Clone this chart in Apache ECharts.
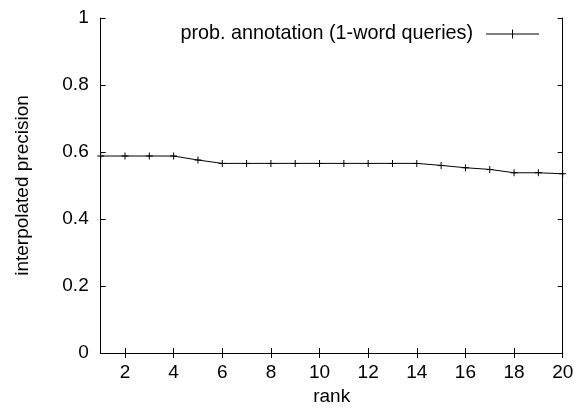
<!DOCTYPE html>
<html>
<head>
<meta charset="utf-8">
<script src="https://cdn.jsdelivr.net/npm/echarts@6/dist/echarts.min.js"></script>
<style>
html,body{margin:0;padding:0;background:#fff;}
#chart{width:577px;height:411px;}
</style>
</head>
<body>
<div id="chart"></div>
<script>
var ranks = [1,2,3,4,5,6,7,8,9,10,11,12,13,14,15,16,17,18,19,20];
var precision = [0.588,0.588,0.588,0.588,0.576,0.566,0.566,0.566,0.566,0.566,0.566,0.566,0.566,0.566,0.560,0.553,0.548,0.538,0.538,0.535];
var xTicks = [2,4,6,8,10,12,14,16,18,20];
var seriesName = 'prob. annotation (1-word queries)';
var xName = 'rank';
var yName = 'interpolated precision';

var FONT = "'Liberation Sans', Arial, Helvetica, sans-serif";
var FS = 19;
var plusPath = 'path://M3,0H4V3H7V4H4V7H3V4H0V3H3Z';
var legendIcon = 'path://M0,4H53V5H0Z M26,0H27V9H26Z';

var chart = echarts.init(document.getElementById('chart'), null, {renderer: 'canvas'});

var axisLine = {show: true, lineStyle: {color: '#000', width: 1}};
var tick = {show: true, inside: true, length: 5, lineStyle: {color: '#000', width: 1}};

var option = {
  backgroundColor: '#fff',
  animation: false,
  textStyle: {fontFamily: FONT, color: '#000'},
  grid: {left: 100.7, right: 14.3, top: 18, bottom: 58, containLabel: false, outerBoundsMode: 'none'},
  legend: {
    right: 38, top: 24, padding: 0,
    align: 'right',
    itemWidth: 53, itemHeight: 9,
    icon: legendIcon,
    selectedMode: false,
    data: [{name: seriesName, icon: legendIcon, itemStyle: {color: '#000'}}],
    textStyle: {fontFamily: FONT, fontSize: 19.8, color: '#000', padding: [0, 8, 0, 0]}
  },
  xAxis: [{
    type: 'value', min: 1, max: 20, position: 'bottom',
    name: xName, nameLocation: 'middle', nameGap: 34,
    nameTextStyle: {fontFamily: FONT, fontSize: FS, color: '#000'},
    axisLine: axisLine,
    axisTick: Object.assign({customValues: xTicks}, tick),
    axisLabel: {customValues: xTicks, fontFamily: FONT, fontSize: FS, color: '#000', margin: 10},
    splitLine: {show: false}
  }, {
    type: 'value', min: 1, max: 20, position: 'top',
    axisLine: axisLine,
    axisTick: Object.assign({customValues: xTicks}, tick),
    axisLabel: {show: false},
    splitLine: {show: false}
  }],
  yAxis: [{
    type: 'value', min: 0, max: 1, interval: 0.2, position: 'left',
    name: yName, nameLocation: 'middle', nameGap: 68, nameRotate: 90,
    nameTextStyle: {fontFamily: FONT, fontSize: FS, color: '#000'},
    axisLine: axisLine,
    axisTick: tick,
    axisLabel: {fontFamily: FONT, fontSize: FS, color: '#000', margin: 12},
    splitLine: {show: false}
  }, {
    type: 'value', min: 0, max: 1, interval: 0.2, position: 'right',
    axisLine: axisLine,
    axisTick: tick,
    axisLabel: {show: false},
    splitLine: {show: false}
  }],
  series: [{
    name: seriesName,
    type: 'line',
    xAxisIndex: 0, yAxisIndex: 0,
    data: ranks.map(function (r, i) { return [r, precision[i]]; }),
    symbol: plusPath,
    symbolSize: 7,
    showAllSymbol: true,
    lineStyle: {color: '#000', width: 1},
    itemStyle: {color: '#000'},
    emphasis: {disabled: true}
  }]
};
chart.setOption(option);
</script>
</body>
</html>
